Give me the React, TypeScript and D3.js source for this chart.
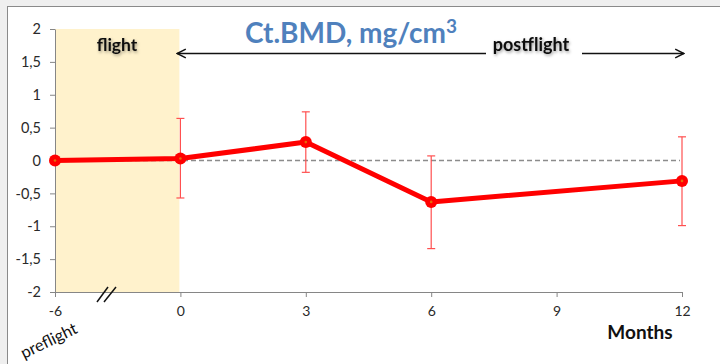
import React, { useEffect, useRef } from "react";
import * as d3 from "d3";

// months, in order, evenly spaced on the axis (axis is broken between -6 and 0)
const months = ["-6", "0", "3", "6", "9", "12"];
const meanValues = [0.0, 0.03, 0.28, -0.63, null, -0.31];
const upperValues = [null, 0.64, 0.74, 0.07, null, 0.36];
const lowerValues = [null, -0.57, -0.18, -1.34, null, -0.99];
const yTicks = [-2, -1.5, -1, -0.5, 0, 0.5, 1, 1.5, 2];

const W = 720;
const H = 364;

export default function App() {
  const ref = useRef<SVGSVGElement>(null);

  useEffect(() => {
    const svg = d3.select(ref.current);
    svg.selectAll("*").remove();

    const font = "Lato, 'Open Sans', sans-serif";

    const x = d3.scalePoint<string>().domain(months).range([55, 682]);
    const y = d3.scaleLinear().domain([-2, 2]).range([292, 29]);

    const defs = svg.append("defs");
    const f = defs.append("filter").attr("id", "shadow").attr("x", "-20%").attr("y", "-30%").attr("width", "140%").attr("height", "170%");
    f.append("feDropShadow").attr("dx", 1).attr("dy", 1.5).attr("stdDeviation", 1.5).attr("flood-color", "#000").attr("flood-opacity", 0.4);
    const m = defs.append("marker").attr("id", "head").attr("viewBox", "0 0 10 10")
      .attr("refX", 9).attr("refY", 5).attr("markerWidth", 11).attr("markerHeight", 11)
      .attr("markerUnits", "userSpaceOnUse").attr("orient", "auto-start-reverse");
    m.append("path").attr("d", "M1,1 L9,5 L1,9").attr("fill", "none").attr("stroke", "#111").attr("stroke-width", 1.4);

    // frame
    svg.append("rect").attr("width", W).attr("height", H).attr("fill", "#efefef");
    svg.append("rect").attr("x", 7.5).attr("y", 6.5).attr("width", W + 10).attr("height", H + 10)
      .attr("fill", "#fff").attr("stroke", "#8a8a8a").attr("stroke-width", 1);

    // flight band
    svg.append("rect").attr("x", x("-6")!).attr("y", y(2))
      .attr("width", x("0")! - 1 - x("-6")!).attr("height", y(-2) - y(2))
      .attr("fill", "#fff2cc");

    // y axis
    const ya = svg.append("g").attr("transform", `translate(${x("-6")},0)`)
      .call(d3.axisLeft(y).tickValues(yTicks).tickSize(5).tickSizeOuter(0)
        .tickFormat((d) => String(d).replace(".", ",")));
    ya.selectAll("path,line").attr("stroke", "#868686");
    ya.selectAll("text").attr("font-family", font).attr("font-size", 14.5).attr("fill", "#2a2a2a").attr("dx", -6);

    // x axis
    const xa = svg.append("g").attr("transform", `translate(0,${y(-2)})`)
      .call(d3.axisBottom(x).tickSize(5).tickSizeOuter(0));
    xa.select(".domain").attr("d", `M${x("-6")! - 5},0.5H${x("12")}`);
    xa.selectAll("path,line").attr("stroke", "#868686");
    xa.selectAll("text").attr("font-family", font).attr("font-size", 14).attr("fill", "#2a2a2a").attr("dy", "1.15em");

    // zero line
    svg.append("line").attr("x1", x("-6")!).attr("x2", x("12")! - 2)
      .attr("y1", y(0)).attr("y2", y(0))
      .attr("stroke", "#8c8c8c").attr("stroke-width", 1.5).attr("stroke-dasharray", "5,3");

    // error bars
    const eb = svg.append("g").attr("stroke", "#ff5050").attr("stroke-width", 1.2);
    months.forEach((mo, i) => {
      const hi = upperValues[i];
      const lo = lowerValues[i];
      if (hi == null || lo == null) return;
      const cx = x(mo)!;
      eb.append("line").attr("x1", cx).attr("x2", cx).attr("y1", y(hi)).attr("y2", y(lo));
      eb.append("line").attr("x1", cx - 4).attr("x2", cx + 4).attr("y1", y(hi)).attr("y2", y(hi));
      eb.append("line").attr("x1", cx - 4).attr("x2", cx + 4).attr("y1", y(lo)).attr("y2", y(lo));
    });

    // series line
    const pts = months.map((mo, i) => ({ mo, v: meanValues[i] })).filter((d) => d.v != null) as { mo: string; v: number }[];
    const line = d3.line<{ mo: string; v: number }>().x((d) => x(d.mo)!).y((d) => y(d.v));
    svg.append("path").attr("d", line(pts)).attr("fill", "none")
      .attr("stroke", "#ff0000").attr("stroke-width", 5).attr("stroke-linejoin", "round");
    svg.selectAll(".pt").data(pts).enter().append("circle")
      .attr("cx", (d) => x(d.mo)!).attr("cy", (d) => y(d.v)).attr("r", 6).attr("fill", "#ff0000");
    svg.selectAll(".ptc").data(pts).enter().append("circle")
      .attr("cx", (d) => x(d.mo)!).attr("cy", (d) => y(d.v)).attr("r", 1.3).attr("fill", "#e46c0a");

    // axis break marks
    const br = svg.append("g").attr("stroke", "#111").attr("stroke-width", 1.5);
    br.append("line").attr("x1", 97).attr("y1", 302).attr("x2", 108).attr("y2", 287);
    br.append("line").attr("x1", 104).attr("y1", 302).attr("x2", 116).attr("y2", 287);

    // title
    const t = svg.append("text").attr("x", 351).attr("y", 43).attr("text-anchor", "middle")
      .attr("font-family", font).attr("font-size", 28).attr("font-weight", "bold").attr("fill", "#4f81bd");
    t.append("tspan").text("Ct.BMD, mg/cm");
    t.append("tspan").attr("font-size", 19).attr("dy", -10).text("3");

    // arrows
    svg.append("line").attr("x1", 177).attr("x2", 486).attr("y1", 53.5).attr("y2", 53.5)
      .attr("stroke", "#111").attr("stroke-width", 1.4).attr("marker-start", "url(#head)");
    svg.append("line").attr("x1", 582).attr("x2", 684).attr("y1", 53.5).attr("y2", 53.5)
      .attr("stroke", "#111").attr("stroke-width", 1.4).attr("marker-end", "url(#head)");

    svg.append("text").attr("x", 117).attr("y", 51).attr("text-anchor", "middle")
      .attr("font-family", font).attr("font-size", 17.5).attr("font-weight", "bold").attr("fill", "#111")
      .attr("filter", "url(#shadow)").text("flight");
    svg.append("text").attr("x", 531).attr("y", 51).attr("text-anchor", "middle")
      .attr("font-family", font).attr("font-size", 18).attr("font-weight", "bold").attr("fill", "#111")
      .attr("filter", "url(#shadow)").text("postflight");

    svg.append("text").attr("x", 640).attr("y", 339).attr("text-anchor", "middle")
      .attr("font-family", font).attr("font-size", 19).attr("font-weight", "bold").attr("fill", "#111")
      .text("Months");

    svg.append("text").attr("transform", "translate(24,359) rotate(-26)")
      .attr("font-family", font).attr("font-size", 16.5).attr("fill", "#111").text("preflight");
  }, []);

  return (
    <svg ref={ref} width={W} height={H}
      style={{ position: "absolute", left: 0, top: 0, display: "block" }} />
  );
}
